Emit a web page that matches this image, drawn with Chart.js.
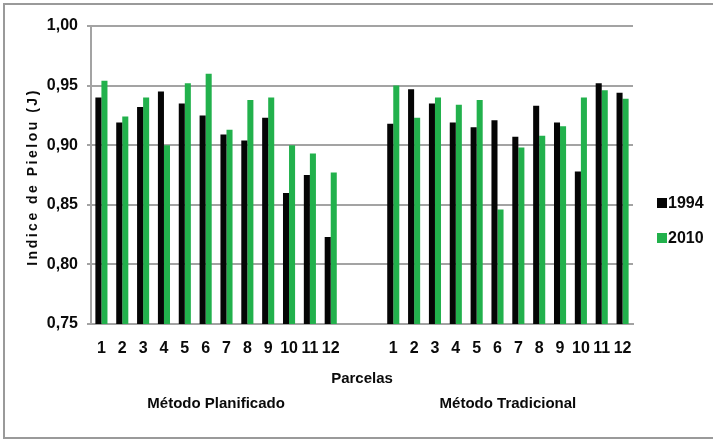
<!DOCTYPE html>
<html>
<head>
<meta charset="utf-8">
<script src="https://cdn.jsdelivr.net/npm/chart.js@4.4.1/dist/chart.umd.min.js"></script>
<style>
html,body{margin:0;padding:0;background:#fff;}
#wrap{position:relative;width:713px;height:440px;}
</style>
</head>
<body>
<div id="wrap"><canvas id="c" width="713" height="440"></canvas></div>
<script>
// ---- data ----
const parcelas = ['1','2','3','4','5','6','7','8','9','10','11','12'];
const groups = ['Método Planificado', 'Método Tradicional'];
const seriesNames = ['1994', '2010'];
const plan1994 = [0.940,0.919,0.932,0.945,0.935,0.925,0.909,0.904,0.923,0.860,0.875,0.823];
const plan2010 = [0.954,0.924,0.940,0.900,0.952,0.960,0.913,0.938,0.940,0.900,0.893,0.877];
const trad1994 = [0.918,0.947,0.935,0.919,0.915,0.921,0.907,0.933,0.919,0.878,0.952,0.944];
const trad2010 = [0.950,0.923,0.940,0.934,0.938,0.846,0.898,0.908,0.916,0.940,0.946,0.939];
const yTickLabels = ['0,75','0,80','0,85','0,90','0,95','1,00'];
const yTitle = 'Indice de Pielou (J)';
const xTitle = 'Parcelas';

// 12 plots + 2 empty slots + 12 plots
const gap = ['', ''];
const labels = parcelas.concat(gap, parcelas);
const d1994 = plan1994.concat([null, null], trad1994);
const d2010 = plan2010.concat([null, null], trad2010);

const FONT = "'Liberation Sans', Arial, sans-serif";
const GRID = '#a3a3a3';
const TXT = '#0a0a0a';

const decor = {
  id: 'decor',
  afterDraw(chart) {
    const ctx = chart.ctx;
    const x = chart.scales.x;
    const area = chart.chartArea;
    ctx.save();
    // frame
    ctx.strokeStyle = '#9a9a9a';
    ctx.lineWidth = 2;
    ctx.strokeRect(4, 4, 720, 434);
    // y title
    ctx.fillStyle = TXT;
    ctx.font = 'bold 14px ' + FONT;
    ctx.letterSpacing = '2.5px';
    ctx.textAlign = 'center';
    ctx.textBaseline = 'middle';
    ctx.translate(33, (area.top + area.bottom) / 2 + 2);
    ctx.rotate(-Math.PI / 2);
    ctx.fillText(yTitle, 0, 0);
    ctx.restore();

    ctx.save();
    ctx.fillStyle = TXT;
    ctx.font = 'bold 15px ' + FONT;
    ctx.textAlign = 'center';
    ctx.textBaseline = 'middle';
    // x title
    ctx.fillText(xTitle, (x.getPixelForValue(12) + x.getPixelForValue(13)) / 2, 379);
    // group labels
    const c1 = (x.getPixelForValue(5) + x.getPixelForValue(6)) / 2;
    const c2 = (x.getPixelForValue(19) + x.getPixelForValue(20)) / 2;
    ctx.fillText(groups[0], c1, 404);
    ctx.fillText(groups[1], c2, 404);
    // legend
    ctx.textAlign = 'left';
    ctx.font = 'bold 16px ' + FONT;
    chart.data.datasets.forEach((ds, i) => {
      const cy = 203 + i * 35;
      ctx.fillStyle = ds.backgroundColor;
      ctx.fillRect(657, cy - 5, 10, 10);
      ctx.fillStyle = TXT;
      ctx.fillText(ds.label, 668, cy + 1);
    });
    ctx.restore();
  }
};

new Chart(document.getElementById('c'), {
  type: 'bar',
  data: {
    labels: labels,
    datasets: [
      { label: seriesNames[0], data: d1994, backgroundColor: '#050505' },
      { label: seriesNames[1], data: d2010, backgroundColor: '#22b14c' }
    ]
  },
  options: {
    responsive: false,
    animation: false,
    events: [],
    layout: { padding: { top: 26, right: 80, left: 0, bottom: 0 } },
    plugins: { legend: { display: false }, tooltip: { enabled: false } },
    datasets: { bar: { categoryPercentage: 0.58, barPercentage: 1.0 } },
    scales: {
      x: {
        grid: { display: false, drawTicks: false },
        border: { display: true, color: GRID, width: 2 },
        ticks: {
          color: TXT, padding: 15, autoSkip: false, maxRotation: 0,
          font: { family: FONT, size: 16, weight: 'bold' }
        },
        afterFit(s) { s.height = 116; }
      },
      y: {
        min: 0.75, max: 1.0,
        grid: { color: GRID, lineWidth: 2, tickLength: 4 },
        border: { display: true, color: GRID, width: 2 },
        ticks: {
          stepSize: 0.05, color: TXT, padding: 9,
          font: { family: FONT, size: 16, weight: 'bold' },
          callback: (v, i) => yTickLabels[i]
        },
        afterFit(s) { s.width = 91; }
      }
    }
  },
  plugins: [decor]
});
</script>
</body>
</html>
